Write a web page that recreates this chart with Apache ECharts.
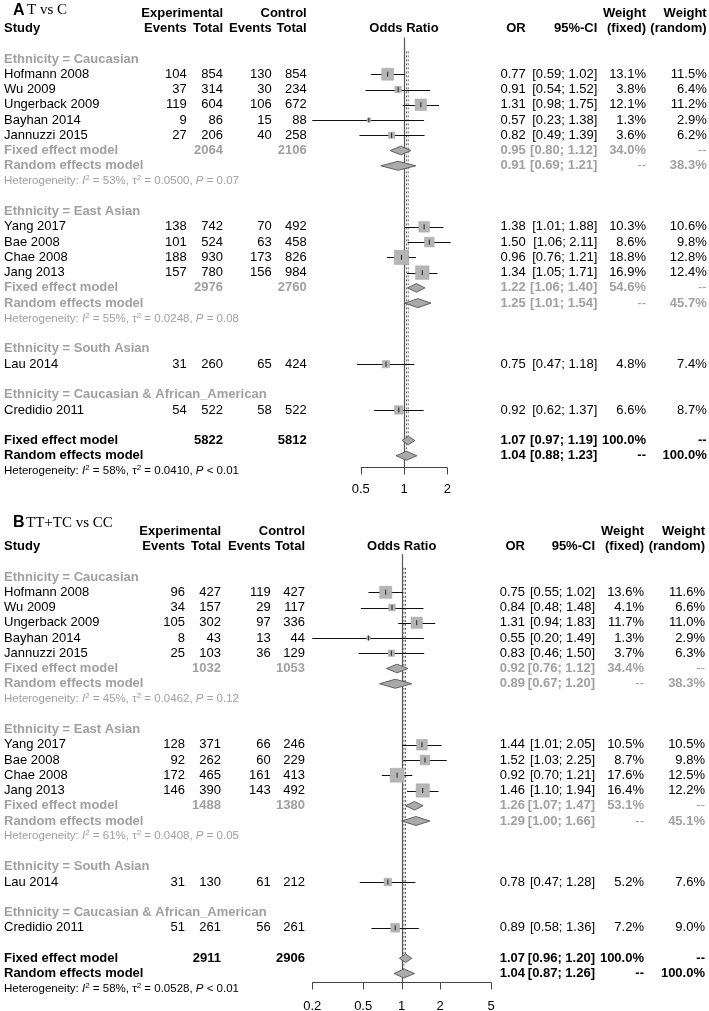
<!DOCTYPE html>
<html><head><meta charset="utf-8">
<script src="https://cdn.jsdelivr.net/npm/echarts@6/dist/echarts.min.js"></script>
<style>html,body{margin:0;padding:0;background:#fff}#c{width:709px;height:1011px}</style>
</head><body><div id="c"></div>
<script>
// ---------- shared ----------
const studies = ['Hofmann 2008','Wu 2009','Ungerback 2009','Bayhan 2014','Jannuzzi 2015','Yang 2017','Bae 2008','Chae 2008','Jang 2013','Lau 2014','Credidio 2011'];
const groups = ['Caucasian','East Asian','South Asian','Caucasian & African_American'];
const studyGroup = [0,0,0,0,0,1,1,1,1,2,3];

// ---------- Panel A: T vs C ----------
const eEventsA = [104,37,119,9,27,138,101,188,157,31,54];
const eTotalA  = [854,314,604,86,206,742,524,930,780,260,522];
const cEventsA = [130,30,106,15,40,70,63,173,156,65,58];
const cTotalA  = [854,234,672,88,258,492,458,826,984,424,522];
const orA  = [0.77,0.91,1.31,0.57,0.82,1.38,1.50,0.96,1.34,0.75,0.92];
const loA  = [0.59,0.54,0.98,0.23,0.49,1.01,1.06,0.76,1.05,0.47,0.62];
const hiA  = [1.02,1.52,1.75,1.38,1.39,1.88,2.11,1.21,1.71,1.18,1.37];
const wFixA = [13.1,3.8,12.1,1.3,3.6,10.3,8.6,18.8,16.9,4.8,6.6];
const wRanA = [11.5,6.4,11.2,2.9,6.2,10.6,9.8,12.8,12.4,7.4,8.7];
const subFixA = [[0.95,0.80,1.12],[1.22,1.06,1.40]];
const subFixWA = [34.0,54.6];
const subRanA = [[0.91,0.69,1.21],[1.25,1.01,1.54]];
const subRanWA = [38.3,45.7];
const subTotA = [[2064,2106],[2976,2760]];
const subHetA = [['53%','0.0500','= 0.07'],['55%','0.0248','= 0.08']];
const allFixA = [1.07,0.97,1.19];
const allRanA = [1.04,0.88,1.23];
const allTotA = [5822,5812];
const allHetA = ['58%','0.0410','< 0.01'];
const ticksA = [0.5,1,2];
const tickLabelsA = ['0.5','1','2'];

// ---------- Panel B: TT+TC vs CC ----------
const eEventsB = [96,34,105,8,25,128,92,172,146,31,51];
const eTotalB  = [427,157,302,43,103,371,262,465,390,130,261];
const cEventsB = [119,29,97,13,36,66,60,161,143,61,56];
const cTotalB  = [427,117,336,44,129,246,229,413,492,212,261];
const orB  = [0.75,0.84,1.31,0.55,0.83,1.44,1.52,0.92,1.46,0.78,0.89];
const loB  = [0.55,0.48,0.94,0.20,0.46,1.01,1.03,0.70,1.10,0.47,0.58];
const hiB  = [1.02,1.48,1.83,1.49,1.50,2.05,2.25,1.21,1.94,1.28,1.36];
const wFixB = [13.6,4.1,11.7,1.3,3.7,10.5,8.7,17.6,16.4,5.2,7.2];
const wRanB = [11.6,6.6,11.0,2.9,6.3,10.5,9.8,12.5,12.2,7.6,9.0];
const subFixB = [[0.92,0.76,1.12],[1.26,1.07,1.47]];
const subFixWB = [34.4,53.1];
const subRanB = [[0.89,0.67,1.20],[1.29,1.00,1.66]];
const subRanWB = [38.3,45.1];
const subTotB = [[1032,1053],[1488,1380]];
const subHetB = [['45%','0.0462','= 0.12'],['61%','0.0408','= 0.05']];
const allFixB = [1.07,0.96,1.20];
const allRanB = [1.04,0.87,1.26];
const allTotB = [2911,2906];
const allHetB = ['58%','0.0528','< 0.01'];
const ticksB = [0.2,0.5,1,2,5];
const tickLabelsB = ['0.2','0.5','1','2','5'];

// ---------- styling / layout ----------
const FONT = '"Liberation Sans", Arial, Helvetica, sans-serif';
const GRAY = '#a0a0a0';
const BLACK = '#000';
const SQ = '#b5b5b5';
const DIA = '#aaaaaa';
const DIA_ST = '#555555';

function mkPanel(d, L) {
  const rows = [];
  rows.push({kind:'ref', row:0});
  rows.push({kind:'axis', row:L.axisRow});
  rows.push({kind:'title', row:L.titleRow});
  rows.push({kind:'head1', row:-3});
  rows.push({kind:'head2', row:-2});
  let r = 0;
  groups.forEach((g, gi) => {
    rows.push({kind:'group', row:r++, text:'Ethnicity = ' + g});
    const idx = [];
    studyGroup.forEach((sg, i) => { if (sg === gi) idx.push(i); });
    idx.forEach(i => rows.push({kind:'study', row:r++, i}));
    if (idx.length > 1) {
      rows.push({kind:'subfix', row:r++, g:gi});
      rows.push({kind:'subran', row:r++, g:gi});
      rows.push({kind:'subhet', row:r++, g:gi});
    }
    r++;
  });
  rows.push({kind:'allfix', row:r++});
  rows.push({kind:'allran', row:r++});
  rows.push({kind:'allhet', row:r++});
  return {d, L, rows};
}

function f2(v){ return v.toFixed(2); }
function ci(lo, hi){ return '[' + f2(lo) + '; ' + f2(hi) + ']'; }
function pct(w){ return w.toFixed(1) + '%'; }

function makeRender(P) {
  const d = P.d, L = P.L, C = L.cols;
  return function (params, api) {
    const it = P.rows[params.dataIndex];
    const yOf = row => api.coord([1, row])[1];
    const X = v => api.coord([v, 0])[0];
    const y = yOf(it.row);
    const ch = [];
    const T = (text, x, align, o) => {
      o = o || {};
      ch.push({type:'text', z2: 10, style:{
        text: String(text), x: x, y: (o.y != null ? o.y : y),
        fill: o.fill || BLACK,
        font: (o.bold ? 'bold ' : '') + (o.size || 13) + 'px ' + (o.family || FONT),
        textAlign: align, textVerticalAlign: 'middle',
        rich: o.rich
      }});
    };
    const hetText = (h, color) => {
      T('Heterogeneity: {it|I}{sup|2} = ' + h[0] + ', \u03c4{sup|2} = ' + h[1] + ', {it|P} ' + h[2], 4, 'left',
        {fill: color, size: 11.5, rich: {
          it: {fontStyle:'italic', fontSize:11.5, fontFamily:'Liberation Sans', fill: color, color: color},
          sup: {fontSize:8, verticalAlign:'top', fontFamily:'Liberation Sans', fill: color, color: color, lineHeight: 14}
        }});
    };
    const diamond = (e, hh) => {
      ch.push({type:'polygon', shape:{points:[[X(e[1]), y],[X(e[0]), y-hh],[X(e[2]), y],[X(e[0]), y+hh]]},
        style:{fill: DIA, stroke: DIA_ST, lineWidth: 0.9}});
    };
    const orci = (e, o) => {
      T(f2(e[0]), C[4], 'right', o);
      T(ci(e[1], e[2]), C[5], 'right', o);
    };
    switch (it.kind) {
      case 'ref': {
        const x1 = Math.round(X(1)) + 0.5;
        ch.push({type:'line', shape:{x1:x1, y1:yOf(L.refTop), x2:x1, y2:yOf(L.axisRow)},
          style:{stroke:'#555', lineWidth:1.2}});
        const xf = X(d.allFix[0]), xr = X(d.allRan[0]);
        ch.push({type:'line', shape:{x1:xf, y1:yOf(L.dashTop), x2:xf, y2:yOf(25) - 4},
          style:{stroke:'#666', lineWidth:1, lineDash:[2,2]}});
        ch.push({type:'line', shape:{x1:xr, y1:yOf(L.dashTop), x2:xr, y2:yOf(26) - 4},
          style:{stroke:'#666', lineWidth:1, lineDash:[2,2]}});
        break;
      }
      case 'axis': {
        const ya = Math.round(y) + 0.5;
        ch.push({type:'line', shape:{x1:X(d.ticks[0]), y1:ya, x2:X(d.ticks[d.ticks.length-1]), y2:ya},
          style:{stroke:'#444', lineWidth:1}});
        d.ticks.forEach((t, k) => {
          const xt = Math.round(X(t)) + 0.5;
          ch.push({type:'line', shape:{x1:xt, y1:ya, x2:xt, y2:ya + 7}, style:{stroke:'#444', lineWidth:1}});
          T(d.tickLabels[k], X(t), 'center', {y: ya + L.labelOff});
        });
        break;
      }
      case 'title':
        T(L.letter, 13, 'left', {bold:true, size:16});
        T(L.title, L.titleX, 'left', {size:15, family:'"Liberation Serif", "Times New Roman", serif'});
        break;
      case 'head1':
        T('Experimental', C[1], 'right', {bold:true});
        T('Control', C[3], 'right', {bold:true});
        T('Weight', C[6], 'right', {bold:true});
        T('Weight', C[7], 'right', {bold:true});
        break;
      case 'head2':
        T('Study', 4, 'left', {bold:true});
        T('Events', C[0], 'right', {bold:true});
        T('Total', C[1], 'right', {bold:true});
        T('Events', C[2], 'right', {bold:true});
        T('Total', C[3], 'right', {bold:true});
        T('Odds Ratio', X(1), 'center', {bold:true});
        T('OR', C[4], 'right', {bold:true});
        T('95%-CI', C[5], 'right', {bold:true});
        T('(fixed)', C[6], 'right', {bold:true});
        T('(random)', C[7], 'right', {bold:true});
        break;
      case 'group':
        T(it.text, 4, 'left', {bold:true, fill:GRAY});
        break;
      case 'study': {
        const i = it.i;
        T(studies[i], 4, 'left');
        T(d.eEv[i], C[0], 'right'); T(d.eTot[i], C[1], 'right');
        T(d.cEv[i], C[2], 'right'); T(d.cTot[i], C[3], 'right');
        T(f2(d.or[i]), C[4], 'right'); T(ci(d.lo[i], d.hi[i]), C[5], 'right');
        T(pct(d.wf[i]), C[6], 'right'); T(pct(d.wr[i]), C[7], 'right');
        const yl = Math.round(y) + 0.5;
        ch.push({type:'line', shape:{x1:X(d.lo[i]), y1:yl, x2:X(d.hi[i]), y2:yl}, style:{stroke:'#111', lineWidth:1}});
        const s = 3.3 * Math.sqrt(d.wf[i]);
        const xo = X(d.or[i]);
        ch.push({type:'rect', shape:{x:xo - s/2, y:y - s/2, width:s, height:s}, style:{fill:SQ, stroke:'#a5a5a5', lineWidth:0.5}});
        ch.push({type:'line', shape:{x1:xo, y1:y - 2.5, x2:xo, y2:y + 2.5}, style:{stroke:'#222', lineWidth:1}});
        break;
      }
      case 'subfix': {
        const g = it.g, e = d.subFix[g];
        T('Fixed effect model', 4, 'left', {bold:true, fill:GRAY});
        T(d.subTot[g][0], C[1], 'right', {bold:true, fill:GRAY});
        T(d.subTot[g][1], C[3], 'right', {bold:true, fill:GRAY});
        orci(e, {bold:true, fill:GRAY});
        T(pct(d.subFixW[g]), C[6], 'right', {bold:true, fill:GRAY});
        T('--', C[7], 'right', {fill:GRAY});
        diamond(e, 4.3);
        break;
      }
      case 'subran': {
        const g = it.g, e = d.subRan[g];
        T('Random effects model', 4, 'left', {bold:true, fill:GRAY});
        orci(e, {bold:true, fill:GRAY});
        T('--', C[6], 'right', {fill:GRAY});
        T(pct(d.subRanW[g]), C[7], 'right', {bold:true, fill:GRAY});
        diamond(e, 4.5);
        break;
      }
      case 'subhet':
        hetText(d.subHet[it.g], GRAY);
        break;
      case 'allfix': {
        const e = d.allFix;
        T('Fixed effect model', 4, 'left', {bold:true});
        T(d.allTot[0], C[1], 'right', {bold:true});
        T(d.allTot[1], C[3], 'right', {bold:true});
        orci(e, {bold:true});
        T('100.0%', C[6], 'right', {bold:true});
        T('--', C[7], 'right', {bold:true});
        diamond(e, 4.3);
        break;
      }
      case 'allran': {
        const e = d.allRan;
        T('Random effects model', 4, 'left', {bold:true});
        orci(e, {bold:true});
        T('--', C[6], 'right', {bold:true});
        T('100.0%', C[7], 'right', {bold:true});
        diamond(e, 4.5);
        break;
      }
      case 'allhet':
        hetText(d.allHet, BLACK);
        break;
    }
    return {type:'group', children: ch};
  };
}

const PA = mkPanel({
  eEv:eEventsA, eTot:eTotalA, cEv:cEventsA, cTot:cTotalA, or:orA, lo:loA, hi:hiA, wf:wFixA, wr:wRanA,
  subFix:subFixA, subFixW:subFixWA, subRan:subRanA, subRanW:subRanWA, subTot:subTotA, subHet:subHetA,
  allFix:allFixA, allRan:allRanA, allTot:allTotA, allHet:allHetA, ticks:ticksA, tickLabels:tickLabelsA
}, {cols:[186.7,223,271.7,306.7,525.7,597.3,646,706.7], axisRow:26.74, titleRow:-3.2, refTop:-1.4, dashTop:-0.5,
    labelOff:22, letter:'A', title:'T vs C', titleX:27});
const PB = mkPanel({
  eEv:eEventsB, eTot:eTotalB, cEv:cEventsB, cTot:cTotalB, or:orB, lo:loB, hi:hiB, wf:wFixB, wr:wRanB,
  subFix:subFixB, subFixW:subFixWB, subRan:subRanB, subRanW:subRanWB, subTot:subTotB, subHet:subHetB,
  allFix:allFixB, allRan:allRanB, allTot:allTotB, allHet:allHetB, ticks:ticksB, tickLabels:tickLabelsB
}, {cols:[185,221,270.7,305,525,595,644,705], axisRow:26.55, titleRow:-3.55, refTop:-1.5, dashTop:-0.6,
    labelOff:24, letter:'B', title:'TT+TC vs CC', titleX:26});

const chart = echarts.init(document.getElementById('c'), null, {renderer:'canvas'});
chart.setOption({
  animation: false,
  backgroundColor: '#fff',
  grid: [
    {left:260.2, width:287.6, top:13.2, height:457.8, containLabel:false, outerBoundsMode:'none'},
    {left:273.7, width:256, top:531.25, height:457.5, containLabel:false, outerBoundsMode:'none'}
  ],
  xAxis: [
    {type:'log', logBase:10, min:0.1, max:10, gridIndex:0, show:false},
    {type:'log', logBase:10, min:0.1, max:10, gridIndex:1, show:false}
  ],
  yAxis: [
    {type:'value', min:-3, max:27, inverse:true, gridIndex:0, show:false},
    {type:'value', min:-3, max:27, inverse:true, gridIndex:1, show:false}
  ],
  series: [
    {type:'custom', xAxisIndex:0, yAxisIndex:0, clip:false, silent:true,
     data: PA.rows.map(r => [1, r.row]), renderItem: makeRender(PA)},
    {type:'custom', xAxisIndex:1, yAxisIndex:1, clip:false, silent:true,
     data: PB.rows.map(r => [1, r.row]), renderItem: makeRender(PB)}
  ]
});
</script></body></html>
